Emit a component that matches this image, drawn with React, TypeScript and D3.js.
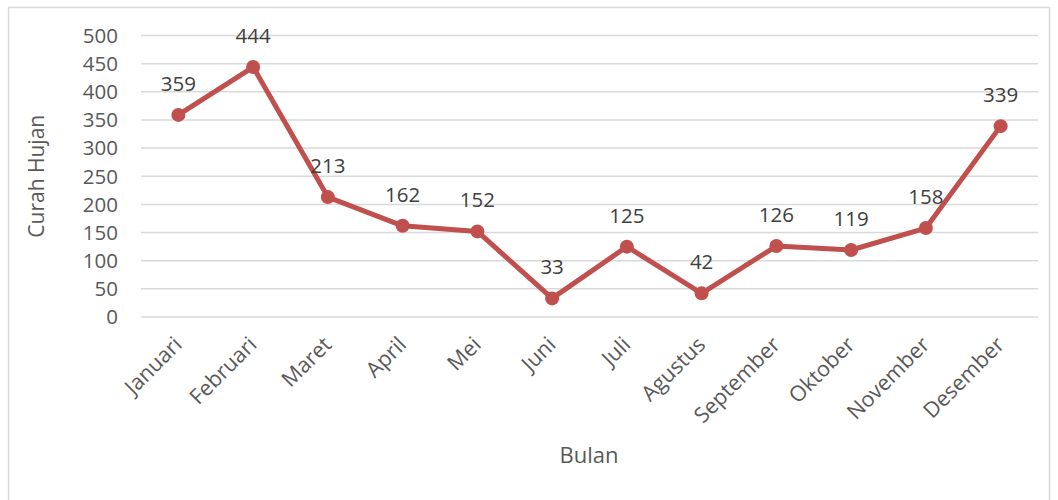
import React from "react";
import * as d3 from "d3";

const months = ["Januari","Februari","Maret","April","Mei","Juni","Juli","Agustus","September","Oktober","November","Desember"];
const rainfall = [359,444,213,162,152,33,125,42,126,119,158,339];
const yTicks = [0,50,100,150,200,250,300,350,400,450,500];

export default function App() {
  const W = 1058, H = 500;
  const left = 141, right = 1038, top = 35.5, bottom = 317;
  const x = d3.scaleBand<string>().domain(months).range([left, right]);
  const y = d3.scaleLinear().domain([0, 500]).range([bottom, top]);
  const cx = (m: string) => (x(m) as number) + x.bandwidth() / 2;
  const line = d3.line<number>().x((_, i) => cx(months[i])).y(d => y(d));
  const font = "'Open Sans', 'Segoe UI', sans-serif";
  return (
    <svg width={W} height={H} style={{ position: "absolute", left: 0, top: 0, background: "#fff" }}>
      <rect x={8.5} y={7.5} width={1041} height={500} fill="#fff" stroke="#D9D9D9" strokeWidth={1.5} />
      {yTicks.map(t => (
        <g key={t}>
          <line x1={left} x2={right} y1={y(t)} y2={y(t)} stroke="#D9D9D9" strokeWidth={1.5} />
          <text x={118} y={y(t)} dy="0.36em" textAnchor="end" fontFamily={font} fontSize={20.5} fill="#595959">{t}</text>
        </g>
      ))}
      {months.map(m => (
        <text key={m} transform={`translate(${cx(m) + 5},${346}) rotate(-45)`} textAnchor="end" fontFamily={font} fontSize={21.5} fill="#595959">{m}</text>
      ))}
      <path d={line(rainfall) || ""} fill="none" stroke="#C0504D" strokeWidth={5} strokeLinejoin="round" />
      {rainfall.map((v, i) => (
        <g key={i}>
          <circle cx={cx(months[i])} cy={y(v)} r={7} fill="#C0504D" />
          <text x={cx(months[i])} y={y(v) - 24} textAnchor="middle" fontFamily={font} fontSize={20.5} fill="#404040">{v}</text>
        </g>
      ))}
      <text transform={`translate(44,${(top + bottom) / 2}) rotate(-90)`} textAnchor="middle" fontFamily={font} fontSize={21} fill="#595959">Curah Hujan</text>
      <text x={589} y={463} textAnchor="middle" fontFamily={font} fontSize={22} fill="#595959">Bulan</text>
    </svg>
  );
}
